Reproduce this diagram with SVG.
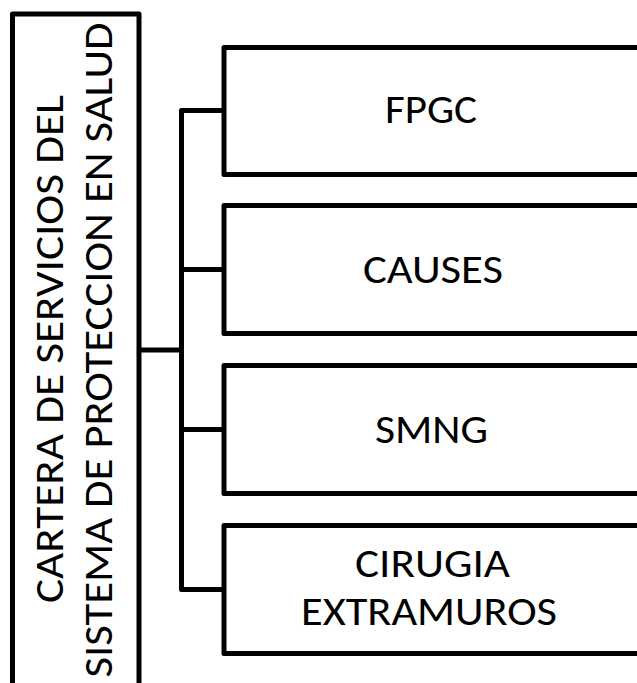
<svg xmlns="http://www.w3.org/2000/svg" width="637" height="683" viewBox="0 0 637 683">
<style>
.box{fill:#fff;stroke:#000;stroke-width:5;stroke-linejoin:round}
.con{fill:none;stroke:#000;stroke-width:5;stroke-linejoin:round;stroke-linecap:round}
.t{font-family:Carlito,Lato,"Open Sans",sans-serif;font-size:42px;fill:#000;text-anchor:middle}
</style>
<rect width="637" height="683" fill="#fff"/>
<g id="connectors">
<path class="con" d="M139 350 H181.5"/>
<path class="con" d="M224 110.5 H181.5 V589.5 H224"/>
<path class="con" d="M181.5 269.5 H224"/>
<path class="con" d="M181.5 429.5 H224"/>
</g>
<g id="root">
<rect class="box" x="12.5" y="14" width="126.5" height="700"/>
<text class="t" transform="translate(63,349) rotate(-90)" textLength="508" lengthAdjust="spacingAndGlyphs">CARTERA DE SERVICIOS DEL</text>
<text class="t" transform="translate(112,350) rotate(-90)" textLength="655" lengthAdjust="spacingAndGlyphs">SISTEMA DE PROTECCION EN SALUD</text>
</g>
<g id="n1">
<rect class="box" x="224" y="47.5" width="420" height="127"/>
<text class="t" x="431" y="123" textLength="92" lengthAdjust="spacingAndGlyphs">FPGC</text>
</g>
<g id="n2">
<rect class="box" x="224" y="205.5" width="420" height="128"/>
<text class="t" x="433" y="283" textLength="140" lengthAdjust="spacingAndGlyphs">CAUSES</text>
</g>
<g id="n3">
<rect class="box" x="224" y="365.5" width="420" height="128"/>
<text class="t" x="431.5" y="443" textLength="113" lengthAdjust="spacingAndGlyphs">SMNG</text>
</g>
<g id="n4">
<rect class="box" x="224" y="525.5" width="420" height="128"/>
<text class="t" x="432.5" y="577" textLength="155" lengthAdjust="spacingAndGlyphs">CIRUGIA</text>
<text class="t" x="429" y="625" textLength="256" lengthAdjust="spacingAndGlyphs">EXTRAMUROS</text>
</g>
</svg>
